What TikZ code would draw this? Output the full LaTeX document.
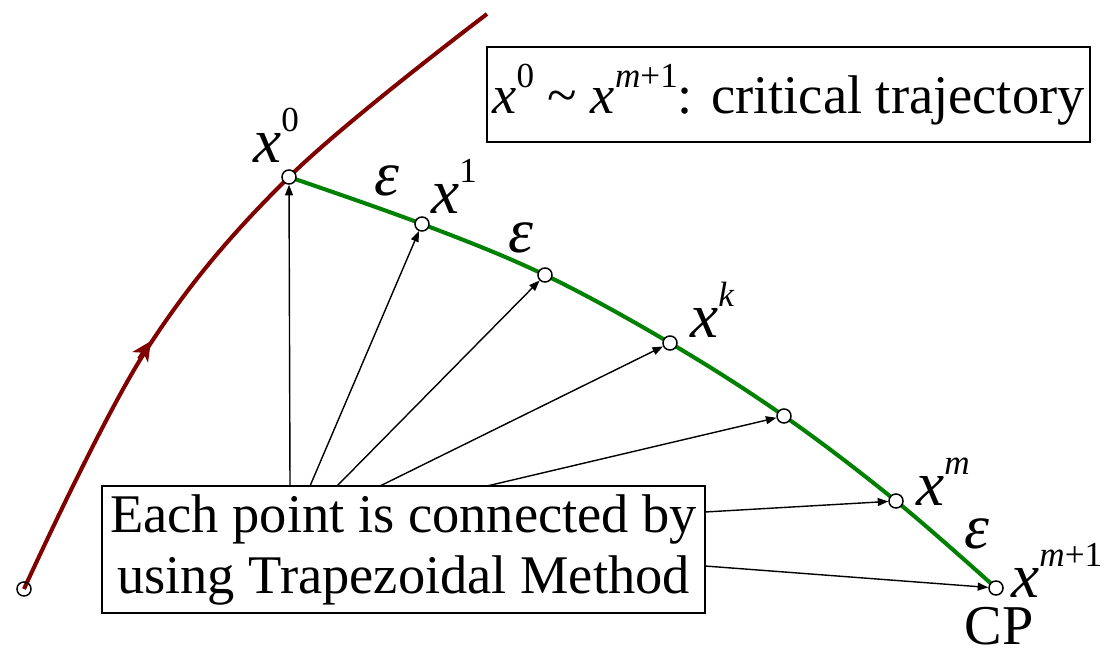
\documentclass[tikz,border=0pt]{standalone}
\usepackage{fontspec}
\usepackage{graphicx}
\setmainfont{Liberation Serif}
\usetikzlibrary{arrows.meta}
\definecolor{trajred}{RGB}{128,0,0}
\definecolor{trajgreen}{RGB}{0,128,0}
\newcommand\xsup[1]{\textit{x}\raisebox{0.48em}{\fontsize{20}{20}\selectfont #1}}
\tikzset{
  pt/.style={circle,draw=black,fill=white,line width=0.85pt,inner sep=0pt,minimum size=8pt},
  lab/.style={inner sep=0pt,font=\fontsize{36}{36}\selectfont},
  eps/.style={inner sep=0pt,font=\fontsize{36}{36}\selectfont\itshape},
  infobox/.style={draw=black,line width=0.85pt,inner sep=0pt,align=center},
  conn/.style={draw=black,line width=0.8pt,-{Triangle[length=6pt,width=4.5pt]}},
  traj/.style={line width=2.3pt},
}
\begin{document}
\begin{tikzpicture}[x=0.02cm,y=-0.02cm]
\useasboundingbox (0,0) rectangle (1119,652);
% coordinates of trajectory points
\coordinate (c0) at (289,177);
\coordinate (c1) at (422,224);
\coordinate (c2) at (545,275);
\coordinate (c3) at (670,343);
\coordinate (c4) at (784,416);
\coordinate (c5) at (896,501);
\coordinate (c6) at (996,588);
\coordinate (s) at (24,589);
% red trajectory
\draw[traj,trajred]
  plot[smooth,tension=0.6] coordinates {(24,589) (145,352) (289,177) (487,14)};
\coordinate (ra) at (139,359);
\coordinate (rb) at (151,341);
\draw[traj,trajred,-{Stealth[length=11pt,width=10.5pt,inset=3pt]}] (ra) -- (rb);
% green critical trajectory
\draw[traj,trajgreen]
  plot[smooth,tension=0.6] coordinates {(c0) (c1) (c2) (c3) (c4) (c5) (c6)};
% points
\node[pt] (p0) at (c0) {};
\node[pt] (p1) at (c1) {};
\node[pt] (p2) at (c2) {};
\node[pt] (p3) at (c3) {};
\node[pt] (p4) at (c4) {};
\node[pt] (p5) at (c5) {};
\node[pt] (p6) at (c6) {};
\node[circle,draw=black,line width=0.85pt,inner sep=0pt,minimum size=8pt] (ps) at (s) {};
% boxes
\node[infobox,minimum width=12.06cm,minimum height=1.9cm,font=\fontsize{31}{31}\selectfont]
  (legend) at (788.5,94.5) {\xsup{0} \textasciitilde\ \xsup{\textit{m}+1}: critical trajectory};
\node[infobox,minimum width=12.06cm,minimum height=2.54cm,font=\fontsize{31}{34.7}\selectfont]
  (note) at (403.5,549.5) {Each point is connected by\\using Trapezoidal Method};
% connector start points on the note box
\coordinate (a0) at (290,486);
\coordinate (a1) at (310,486);
\coordinate (a2) at (337,486);
\coordinate (a3) at (380,486);
\coordinate (a4) at (487,486);
\coordinate (a5) at (705,512);
\coordinate (a6) at (705,566);
\draw[conn] (a0) -- (p0);
\draw[conn] (a1) -- (p1);
\draw[conn] (a2) -- (p2);
\draw[conn] (a3) -- (p3);
\draw[conn] (a4) -- (p4);
\draw[conn] (a5) -- (p5);
\draw[conn] (a6) -- (p6);
% labels
\node[lab,anchor=base west] (lx0) at (253,162) {\xsup{0}};
\node[lab,anchor=base west] (lx1) at (431,213) {\xsup{1}};
\node[lab,anchor=base west] (lxk) at (690,337) {\xsup{\textit{k}}};
\node[lab,anchor=base west] (lxm) at (916,505) {\xsup{\textit{m}}};
\node[lab,anchor=base west] (lxm1) at (1011,597) {\xsup{\textit{m}+1}};
\node[eps,anchor=base] (e1) at (387,195) {ε};
\node[eps,anchor=base] (e2) at (521,252) {ε};
\node[eps,anchor=base] (e3) at (977,548) {ε};
\node[inner sep=0pt,anchor=base,font=\fontsize{32}{32}\selectfont] (cp) at (999,644) {CP};
\end{tikzpicture}
\end{document}
